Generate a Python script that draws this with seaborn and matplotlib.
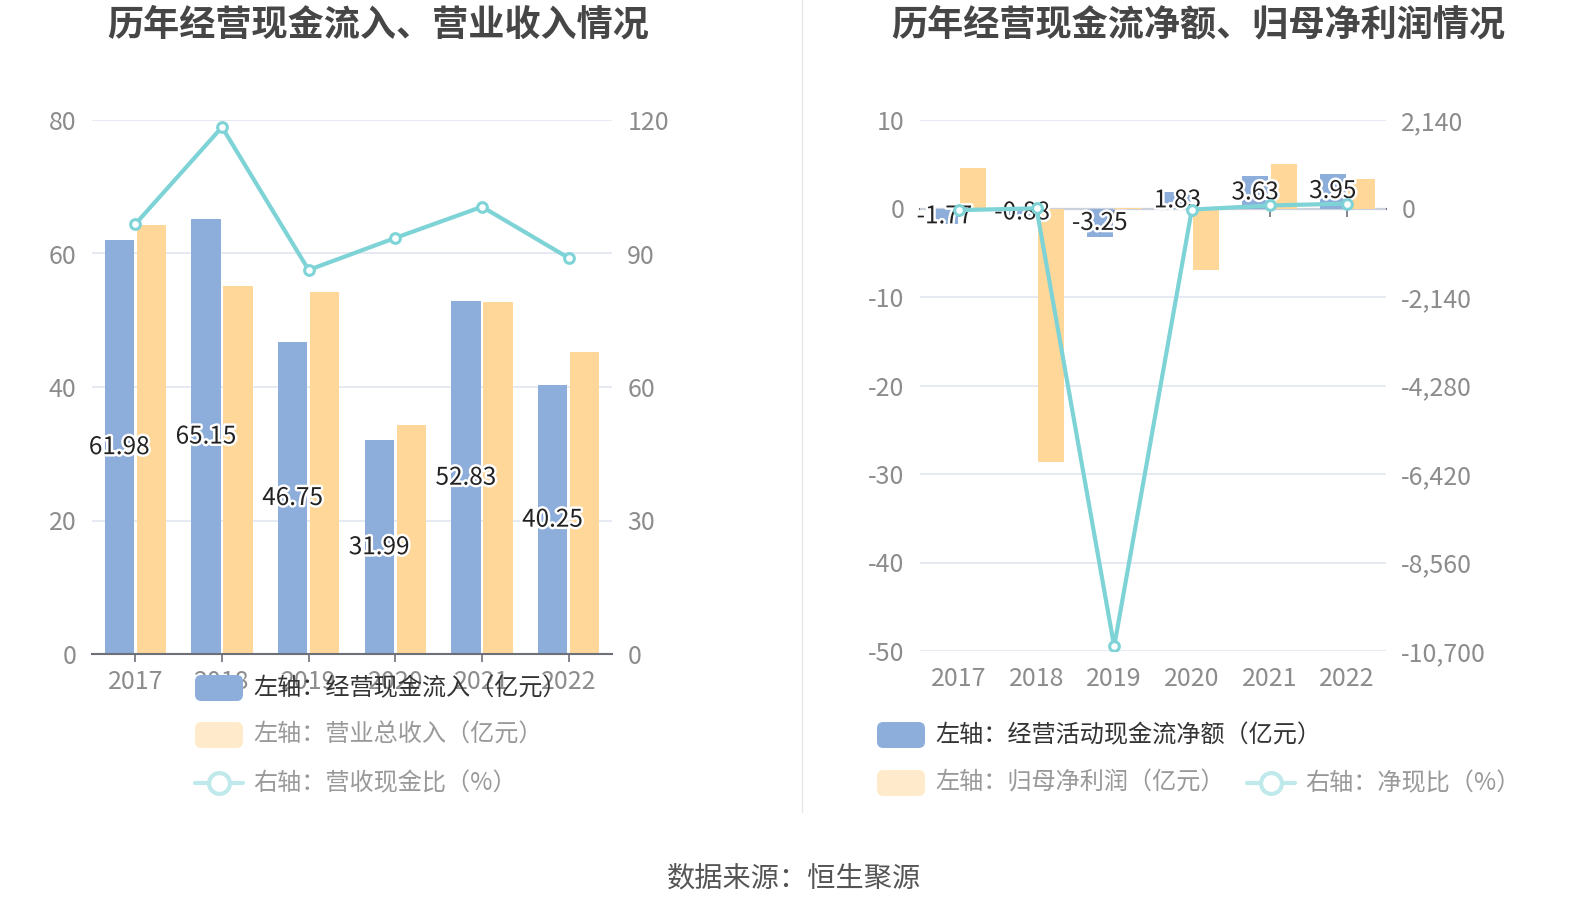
import numpy as np
import pandas as pd
import matplotlib
matplotlib.use("Agg")
import matplotlib.pyplot as plt
import seaborn as sns
from matplotlib.patches import FancyBboxPatch
from matplotlib.lines import Line2D
import matplotlib.patheffects as pe
from matplotlib.ticker import FuncFormatter

sns.set_theme(style="white")
plt.rcParams['font.family'] = ['Noto Sans CJK SC', 'DejaVu Sans']
plt.rcParams['axes.unicode_minus'] = False

# ---------------- data ----------------
years = ["2017", "2018", "2019", "2020", "2021", "2022"]
cash_inflow = [61.98, 65.15, 46.75, 31.99, 52.83, 40.25]
revenue = [64.3, 55.2, 54.3, 34.3, 52.7, 45.3]
cash_rev_ratio = [96.6, 118.4, 86.3, 93.5, 100.5, 89.0]

net_cashflow = [-1.77, -0.88, -3.25, 1.83, 3.63, 3.95]
net_profit = [4.53, -28.7, 0.03, -6.98, 4.98, 3.33]
net_cash_ratio = [-39.1, 3.07, -10590.0, -26.2, 72.9, 118.6]

left_title = "历年经营现金流入、营业收入情况"
right_title = "历年经营现金流净额、归母净利润情况"
left_names = ["左轴：经营现金流入（亿元）", "左轴：营业总收入（亿元）", "右轴：营收现金比（%）"]
right_names = ["左轴：经营活动现金流净额（亿元）", "左轴：归母净利润（亿元）", "右轴：净现比（%）"]
source = "数据来源：恒生聚源"

BLUE = "#8DADDB"
ORANGE = "#FFD899"
TEAL = "#7ED3D6"
GRID = "#E0E6F1"
AXC = "#6E7079"
TICKC = "#8C8C8C"
TICKFS = 18

W, H = 1590, 918
fig = plt.figure(figsize=(W / 100, H / 100), dpi=100)
fig.patch.set_facecolor("white")


def px_rect(x0, x1, ytop, ybot):
    return [x0 / W, 1 - ybot / H, (x1 - x0) / W, (ybot - ytop) / H]


def draw_bars(ax, s1, s2):
    df = pd.DataFrame({
        "year": years * 2,
        "value": list(s1) + list(s2),
        "series": ["a"] * len(years) + ["b"] * len(years),
    })
    sns.barplot(data=df, x="year", y="value", hue="series", palette=[BLUE, ORANGE],
                width=0.74, gap=0.08, saturation=1, ax=ax, legend=False, errorbar=None,
                linewidth=0)
    return ax.containers[0]


def style_common(ax, ax2):
    for s in ["top", "left", "right"]:
        ax.spines[s].set_visible(False)
        ax2.spines[s].set_visible(False)
    ax2.spines["bottom"].set_visible(False)
    ax.grid(axis="y", color=GRID, linewidth=1.2)
    ax.set_axisbelow(True)
    ax.set_xlabel("")
    ax.set_ylabel("")
    ax2.set_ylabel("")
    ax.tick_params(axis="y", length=0, pad=11, labelsize=TICKFS, labelcolor=TICKC)
    ax2.tick_params(axis="y", length=0, pad=11, labelsize=TICKFS, labelcolor=TICKC)


halo = [pe.withStroke(linewidth=3.5, foreground="white")]

# ---------------- left chart ----------------
axL = fig.add_axes(px_rect(92, 612, 120, 654))
bars = draw_bars(axL, cash_inflow, revenue)
axL.set_ylim(0, 80)
axL.set_yticks([0, 20, 40, 60, 80])
axL.set_xlim(-0.5, len(years) - 0.5)
axL2 = axL.twinx()
sns.lineplot(x=np.arange(len(years)), y=cash_rev_ratio, ax=axL2, color=TEAL, linewidth=3,
             marker="o", markersize=7, markerfacecolor="white", markeredgecolor=TEAL,
             markeredgewidth=2.2)
axL2.set_ylim(0, 120)
axL2.set_yticks([0, 30, 60, 90, 120])
axL2.set_xlim(-0.5, len(years) - 0.5)
style_common(axL, axL2)
axL.spines["bottom"].set_color(AXC)
axL.spines["bottom"].set_linewidth(1.5)
axL.tick_params(axis="x", length=6, width=1.2, color=AXC, pad=5, labelsize=TICKFS,
                labelcolor=TICKC, bottom=True)
for b, v in zip(bars, cash_inflow):
    axL.text(b.get_x() + b.get_width() / 2, v / 2, f"{v:.2f}", ha="center", va="center",
             fontsize=17.5, color="#222222", path_effects=halo)

# ---------------- right chart ----------------
axR = fig.add_axes(px_rect(920, 1386, 120, 651))
bars = draw_bars(axR, net_cashflow, net_profit)
axR.set_ylim(-50, 10)
axR.set_yticks([-50, -40, -30, -20, -10, 0, 10])
axR.set_xlim(-0.5, len(years) - 0.5)
axR2 = axR.twinx()
sns.lineplot(x=np.arange(len(years)), y=net_cash_ratio, ax=axR2, color=TEAL, linewidth=3,
             marker="o", markersize=7, markerfacecolor="white", markeredgecolor=TEAL,
             markeredgewidth=2.2)
axR2.set_ylim(-10700, 2140)
axR2.set_yticks([-10700, -8560, -6420, -4280, -2140, 0, 2140])
axR2.yaxis.set_major_formatter(FuncFormatter(lambda v, p: f"{int(round(v)):,}"))
axR2.set_xlim(-0.5, len(years) - 0.5)
style_common(axR, axR2)
axR.spines["bottom"].set_position(("data", 0))
axR.spines["bottom"].set_color(AXC)
axR.spines["bottom"].set_linewidth(1.5)
axR.spines["bottom"].set_zorder(0.5)
axR.tick_params(axis="x", length=6, width=1.2, color=AXC, labelbottom=False, bottom=True)
for i, y in enumerate(years):
    axR.text(i, -0.052, y, transform=axR.get_xaxis_transform(), ha="center", va="center",
             fontsize=TICKFS, color=TICKC)
for b, v in zip(bars, net_cashflow):
    axR.text(b.get_x() + b.get_width() / 2, v / 2, f"{v:.2f}", ha="center", va="center",
             fontsize=17.5, color="#222222", path_effects=halo)

# ---------------- titles / divider / source ----------------
fig.text(378 / W, 1 - 25 / H, left_title, ha="center", va="center", fontsize=26,
         fontweight="bold", color="#464646")
fig.text(1198 / W, 1 - 25 / H, right_title, ha="center", va="center", fontsize=26,
         fontweight="bold", color="#464646")
fig.add_artist(Line2D([802 / W, 802 / W], [1, 1 - 812 / H], transform=fig.transFigure,
                      color="#E6E6E6", linewidth=1))
fig.text(794 / W, 1 - 878 / H, source, ha="center", va="center", fontsize=20.3, color="#555555")


# ---------------- legends ----------------
def legend_box(x, yc, color):
    w, h = 48, 26
    p = FancyBboxPatch(((x) / W, 1 - (yc + h / 2) / H), w / W, h / H,
                       boxstyle="round,pad=0,rounding_size=0.004",
                       transform=fig.transFigure, facecolor=color, edgecolor="none",
                       mutation_aspect=W / H)
    fig.add_artist(p)


def legend_line(x, yc, color):
    fig.add_artist(Line2D([x / W, (x + 48) / W], [1 - yc / H, 1 - yc / H],
                          transform=fig.transFigure, color=color, linewidth=3))
    fig.add_artist(Line2D([(x + 24) / W], [1 - yc / H], transform=fig.transFigure,
                          marker="o", markersize=15, markerfacecolor="white",
                          markeredgecolor=color, markeredgewidth=3, linestyle="none"))


FADE_OR = "#FFEBCC"
FADE_TE = "#BFE9EB"
LFS = 17.4

legend_box(195, 688, BLUE)
fig.text(253 / W, 1 - 688 / H, left_names[0], ha="left", va="center", fontsize=LFS, color="#333333")
legend_box(195, 735, FADE_OR)
fig.text(253 / W, 1 - 735 / H, left_names[1], ha="left", va="center", fontsize=LFS, color="#999999")
legend_line(195, 783, FADE_TE)
fig.text(253 / W, 1 - 783 / H, left_names[2], ha="left", va="center", fontsize=LFS, color="#999999")

legend_box(877, 735, BLUE)
fig.text(935 / W, 1 - 735 / H, right_names[0], ha="left", va="center", fontsize=LFS, color="#333333")
legend_box(877, 783, FADE_OR)
fig.text(935 / W, 1 - 783 / H, right_names[1], ha="left", va="center", fontsize=LFS, color="#999999")
legend_line(1247, 783, FADE_TE)
fig.text(1305 / W, 1 - 783 / H, right_names[2], ha="left", va="center", fontsize=LFS, color="#999999")

fig.savefig("out.png", dpi=100, facecolor="white")
